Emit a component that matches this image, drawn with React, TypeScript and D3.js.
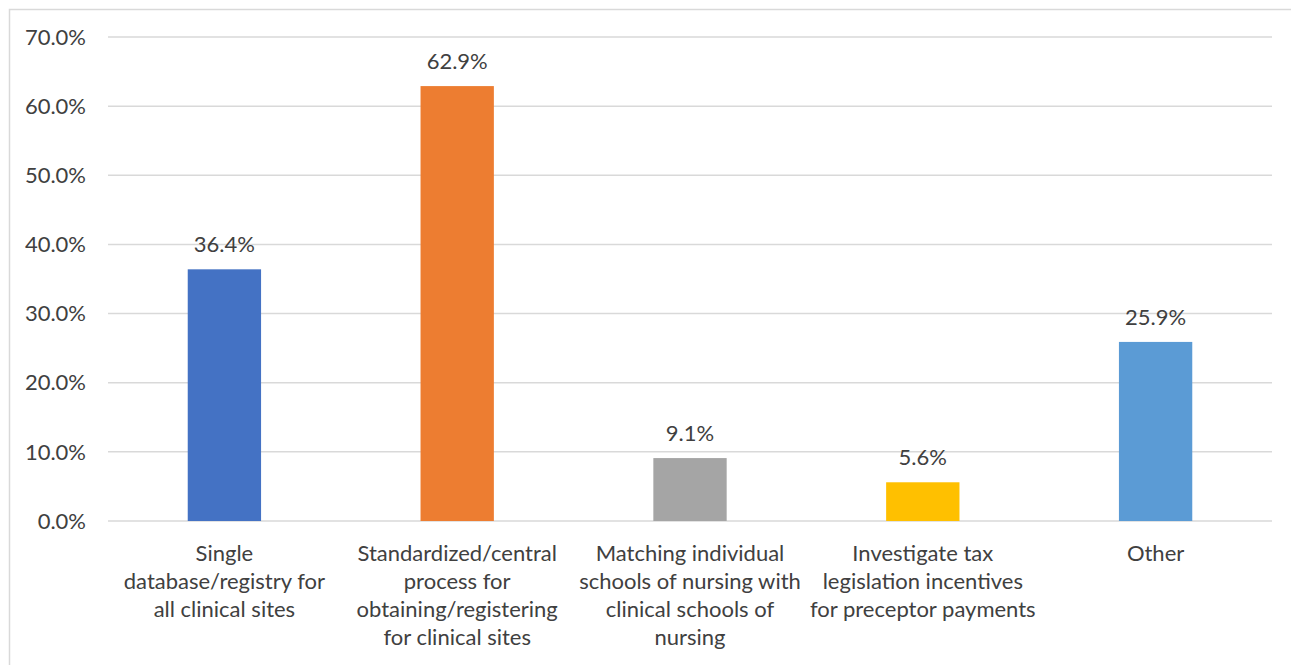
import React, { useEffect, useRef } from 'react';
import * as d3 from 'd3';

const categories = [
  'Single database/registry for all clinical sites',
  'Standardized/central process for obtaining/registering for clinical sites',
  'Matching individual schools of nursing with clinical schools of nursing',
  'Investigate tax legislation incentives for preceptor payments',
  'Other',
];
const categoryLines = [
  ['Single', 'database/registry for', 'all clinical sites'],
  ['Standardized/central', 'process for', 'obtaining/registering', 'for clinical sites'],
  ['Matching individual', 'schools of nursing with', 'clinical schools of', 'nursing'],
  ['Investigate tax', 'legislation incentives', 'for preceptor payments'],
  ['Other'],
];
const values = [0.364, 0.629, 0.091, 0.056, 0.259];
const barColors = ['#4472c4', '#ed7d31', '#a5a5a5', '#ffc000', '#5b9bd5'];
const yTicks = [0, 0.1, 0.2, 0.3, 0.4, 0.5, 0.6, 0.7];

const W = 1291;
const H = 665;
const FONT = 'Lato, "Open Sans", sans-serif';
const TEXT = '#404040';
const FS = 22;

export default function App() {
  const ref = useRef<SVGSVGElement>(null);

  useEffect(() => {
    if (!ref.current) return;
    const svg = d3.select(ref.current);
    svg.selectAll('*').remove();

    const left = 108, right = 1272, top = 37, bottom = 521;

    const x = d3.scaleBand<string>().domain(categories).range([left, right]).paddingInner(0.685).paddingOuter(0.3425);
    const y = d3.scaleLinear().domain([0, 0.7]).range([bottom, top]);

    // chart border (right/bottom edges fall outside the picture)
    svg.append('rect')
      .attr('x', 9.5).attr('y', 9.5)
      .attr('width', W + 20).attr('height', H + 20)
      .attr('fill', '#fff').attr('stroke', '#d9d9d9').attr('stroke-width', 1.5);

    // gridlines
    svg.append('g')
      .selectAll('line')
      .data(yTicks)
      .join('line')
      .attr('x1', left).attr('x2', right)
      .attr('y1', d => y(d)).attr('y2', d => y(d))
      .attr('stroke', '#d9d9d9').attr('stroke-width', 1.5);

    // y labels
    svg.append('g')
      .selectAll('text')
      .data(yTicks)
      .join('text')
      .attr('x', 86).attr('y', d => y(d))
      .attr('dy', '0.35em')
      .attr('text-anchor', 'end')
      .attr('font-family', FONT).attr('font-size', FS)
      .attr('fill', TEXT)
      .text(d => d3.format('.1%')(d));

    // bars
    svg.append('g')
      .selectAll('rect')
      .data(values)
      .join('rect')
      .attr('x', (d, i) => x(categories[i])!)
      .attr('width', x.bandwidth())
      .attr('y', d => y(d))
      .attr('height', d => bottom - y(d))
      .attr('fill', (d, i) => barColors[i]);

    // value labels
    svg.append('g')
      .selectAll('text')
      .data(values)
      .join('text')
      .attr('x', (d, i) => x(categories[i])! + x.bandwidth() / 2)
      .attr('y', d => y(d) - 25)
      .attr('dy', '0.35em')
      .attr('text-anchor', 'middle')
      .attr('font-family', FONT).attr('font-size', FS)
      .attr('fill', TEXT)
      .text(d => d3.format('.1%')(d));

    // category labels
    const cat = svg.append('g')
      .selectAll('text')
      .data(categoryLines)
      .join('text')
      .attr('text-anchor', 'middle')
      .attr('font-family', FONT).attr('font-size', FS)
      .attr('fill', TEXT);
    cat.each(function (lines, i) {
      const cx = x(categories[i])! + x.bandwidth() / 2;
      d3.select(this)
        .selectAll('tspan')
        .data(lines)
        .join('tspan')
        .attr('x', cx)
        .attr('y', (l, j) => bottom + 32 + j * 28)
        .attr('dy', '0.35em')
        .text(l => l);
    });
  }, []);

  return (
    <svg ref={ref} width={W} height={H} style={{ position: 'absolute', left: 0, top: 0 }} />
  );
}
